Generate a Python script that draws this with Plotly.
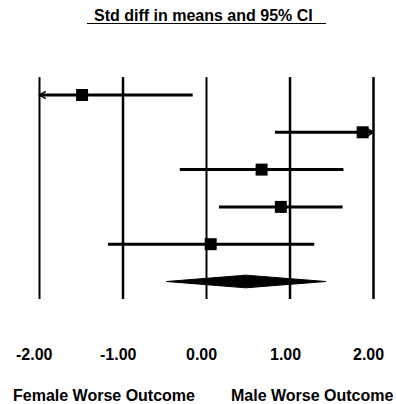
import plotly.graph_objects as go

# Study-level standardized differences in means with 95% CI
effects = [-1.49, 1.87, 0.66, 0.89, 0.05]
lowers = [-2.30, 0.82, -0.32, 0.15, -1.18]
uppers = [-0.165, 2.40, 1.64, 1.63, 1.29]

# Pooled estimate
pooled_effect = 0.47
pooled_lower = -0.48
pooled_upper = 1.43

tick_values = [-2.0, -1.0, 0.0, 1.0, 2.0]
tick_labels = ["-2.00", "-1.00", "0.00", "1.00", "2.00"]

AX_MIN, AX_MAX = -2.0, 2.0
W, H = 396, 404
FONT = "Arial, Liberation Sans, sans-serif"
FS = 16

fig = go.Figure()

# Vertical reference lines at each tick
for tv in tick_values:
    fig.add_trace(go.Scatter(
        x=[tv, tv], y=[-0.48, 5.47], mode="lines",
        line=dict(color="black", width=2.5 if tv not in (AX_MIN, 0.0) else 2),
        hoverinfo="skip", showlegend=False))

# Study rows
for i, (e, lo, hi) in enumerate(zip(effects, lowers, uppers)):
    lo_c = max(lo, AX_MIN)
    hi_c = min(hi, AX_MAX)
    fig.add_trace(go.Scatter(
        x=[lo_c, hi_c], y=[i, i], mode="lines",
        line=dict(color="black", width=3), hoverinfo="skip", showlegend=False))
    # open arrowheads where the interval runs past the axis
    if lo < AX_MIN:
        fig.add_trace(go.Scatter(
            x=[lo_c + 0.075, lo_c, lo_c + 0.075], y=[i - 0.1, i, i + 0.1],
            mode="lines", line=dict(color="black", width=1.5),
            hoverinfo="skip", showlegend=False))
    if hi > AX_MAX:
        fig.add_trace(go.Scatter(
            x=[hi_c - 0.075, hi_c, hi_c - 0.075], y=[i - 0.1, i, i + 0.1],
            mode="lines", line=dict(color="black", width=1.5),
            hoverinfo="skip", showlegend=False))

fig.add_trace(go.Scatter(
    x=effects, y=list(range(len(effects))), mode="markers",
    marker=dict(symbol="square", size=12, color="black"),
    hoverinfo="skip", showlegend=False))

# Pooled diamond
row = len(effects)
fig.add_trace(go.Scatter(
    x=[pooled_lower, pooled_effect, pooled_upper, pooled_effect, pooled_lower],
    y=[row, row - 0.17, row, row + 0.17, row],
    mode="lines", fill="toself", fillcolor="black",
    line=dict(color="black", width=1), hoverinfo="skip", showlegend=False))

px_per_unit = 83.5
x_zero_px = 206.5
row0_px, row_step = 95, 37.3

annotations = []
# Title
annotations.append(dict(
    x=203 / W, y=1 - 15 / H, xref="paper", yref="paper",
    text="<b>Std diff in means and 95% CI</b>", showarrow=False,
    font=dict(family=FONT, size=FS, color="black"),
    xanchor="center", yanchor="middle"))
# Tick labels
for tv, tl in zip(tick_values, tick_labels):
    annotations.append(dict(
        x=tv, y=1 - 354 / H, xref="x", yref="paper", text="<b>" + tl + "</b>",
        showarrow=False, xshift=-5,
        font=dict(family=FONT, size=FS, color="black"),
        xanchor="center", yanchor="middle"))
# Direction labels
annotations.append(dict(
    x=104 / W, y=1 - 395 / H, xref="paper", yref="paper",
    text="<b>Female Worse Outcome</b>", showarrow=False,
    font=dict(family=FONT, size=FS, color="black"),
    xanchor="center", yanchor="middle"))
annotations.append(dict(
    x=312 / W, y=1 - 395 / H, xref="paper", yref="paper",
    text="<b>Male Worse Outcome</b>", showarrow=False,
    font=dict(family=FONT, size=FS, color="black"),
    xanchor="center", yanchor="middle"))

fig.update_layout(
    width=W, height=H,
    margin=dict(l=0, r=0, t=0, b=0),
    paper_bgcolor="white", plot_bgcolor="white",
    xaxis=dict(range=[-x_zero_px / px_per_unit, (W - x_zero_px) / px_per_unit],
               visible=False, fixedrange=True),
    yaxis=dict(range=[(H - row0_px) / row_step, -row0_px / row_step],
               visible=False, fixedrange=True),
    annotations=annotations,
    shapes=[dict(type="line", xref="paper", yref="paper",
                 x0=87 / W, x1=326 / W, y0=1 - 23.5 / H, y1=1 - 23.5 / H,
                 line=dict(color="black", width=1))],
)

fig.write_html("out.html")
